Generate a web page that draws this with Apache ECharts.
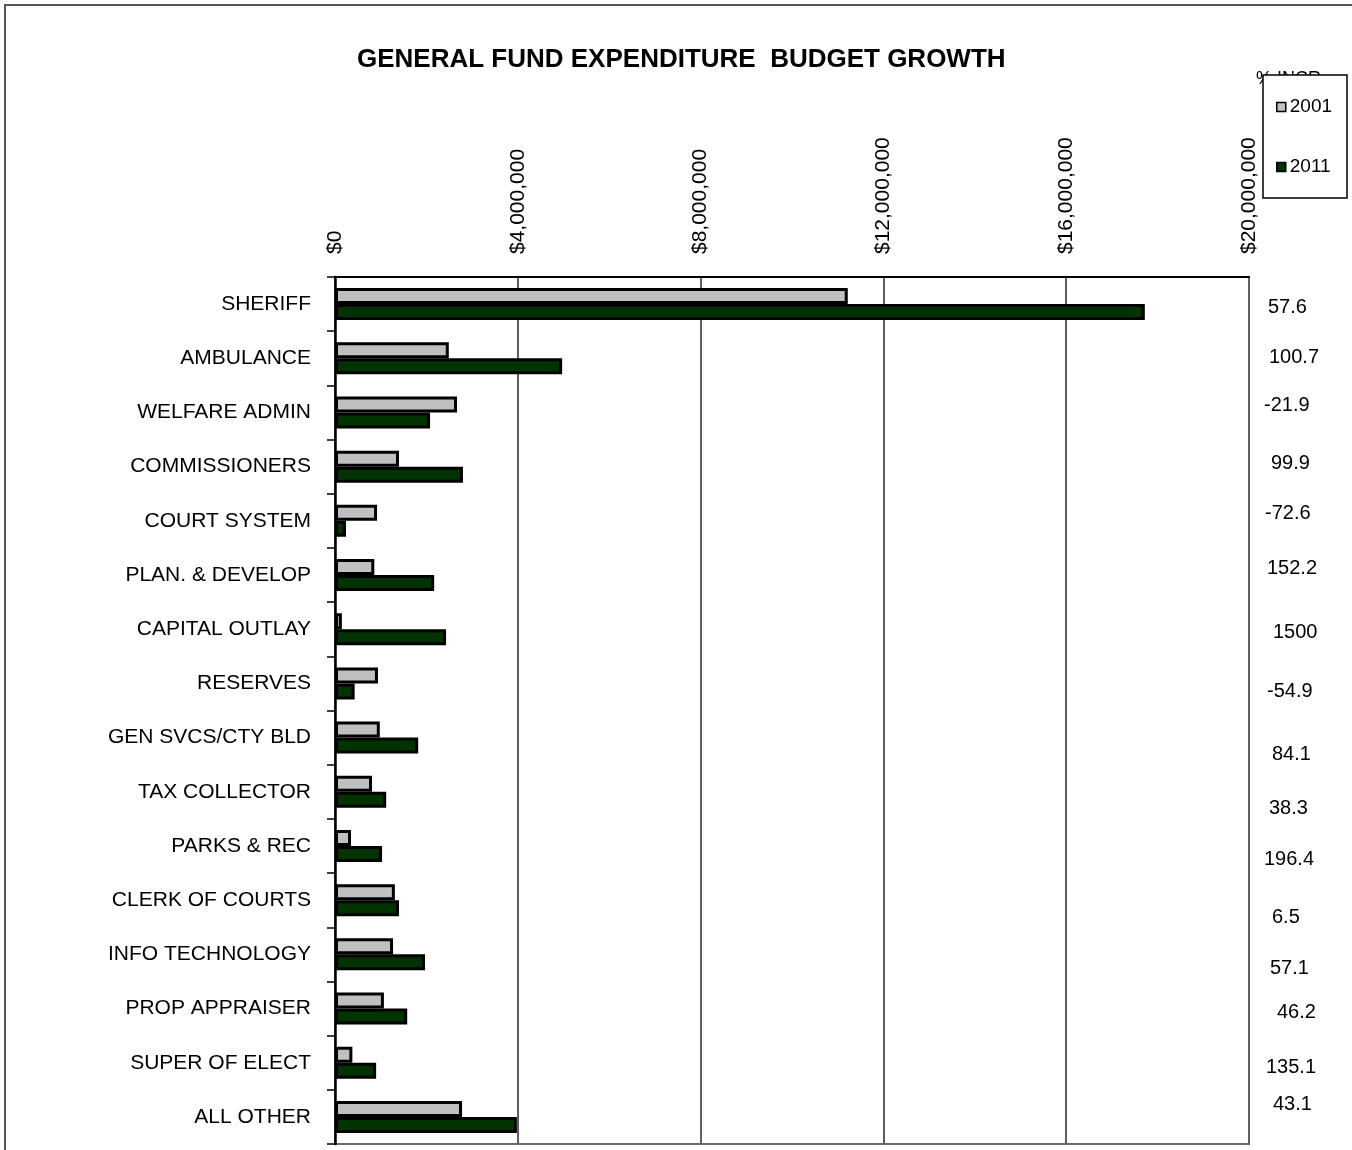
<!DOCTYPE html>
<html>
<head>
<meta charset="utf-8">
<title>General Fund Expenditure Budget Growth</title>
<script src="https://cdn.jsdelivr.net/npm/echarts@6/dist/echarts.min.js"></script>
<style>
  html, body { margin: 0; padding: 0; background: #fff; }
  #chart { width: 1352px; height: 1150px; }
</style>
</head>
<body>
<div id="chart"></div>
<script>
// Budget by department, dollars
const categories = [
  'SHERIFF', 'AMBULANCE', 'WELFARE ADMIN', 'COMMISSIONERS', 'COURT SYSTEM',
  'PLAN. & DEVELOP', 'CAPITAL OUTLAY', 'RESERVES', 'GEN SVCS/CTY BLD', 'TAX COLLECTOR',
  'PARKS & REC', 'CLERK OF COURTS', 'INFO TECHNOLOGY', 'PROP APPRAISER', 'SUPER OF ELECT', 'ALL OTHER'
];
const budget2001 = [
  11220000, 2490000, 2670000, 1400000, 920000,
  860000, 150000, 940000, 980000, 810000,
  350000, 1310000, 1270000, 1070000, 380000, 2780000
];
const budget2011 = [
  17720000, 4970000, 2080000, 2800000, 240000,
  2170000, 2430000, 430000, 1820000, 1120000,
  1030000, 1400000, 1970000, 1580000, 900000, 3980000
];
// Percent increase 2001 -> 2011, printed beside the plot
const growthPct = [
  '57.6', '100.7', '-21.9', '99.9', '-72.6',
  '152.2', '1500', '-54.9', '84.1', '38.3',
  '196.4', '6.5', '57.1', '46.2', '135.1', '43.1'
];
const valueMin = 0;
const valueMax = 20000000;
const valueStep = 4000000;

// Placement of the percent column (left edge x, middle y)
const pctLeft = [1268, 1269, 1264, 1271, 1265, 1267, 1273, 1267, 1272, 1269, 1264, 1272, 1270, 1277, 1266, 1273];
const pctMid  = [307, 357, 405, 463, 513, 568, 632, 691, 754, 808, 859, 917, 968, 1012, 1067, 1104];

const FONT = '"Liberation Sans", Arial, Helvetica, sans-serif';

function money(v) {
  return '$' + String(Math.round(v)).replace(/\B(?=(\d{3})+(?!\d))/g, ',');
}

const pctTexts = growthPct.map((t, i) => ({
  type: 'text',
  x: pctLeft[i],
  y: pctMid[i],
  z: 5,
  style: {
    text: t,
    fill: '#000',
    font: '20px ' + FONT,
    textAlign: 'left',
    textVerticalAlign: 'middle'
  }
}));

const chart = echarts.init(document.getElementById('chart'), null, { renderer: 'canvas' });

chart.setOption({
  backgroundColor: '#fff',
  animation: false,
  textStyle: { fontFamily: FONT },
  title: {
    text: 'GENERAL FUND EXPENDITURE  BUDGET GROWTH',
    left: 357,
    top: 47,
    padding: 0,
    textStyle: { fontFamily: FONT, fontSize: 26, fontWeight: 'bold', color: '#000' }
  },
  legend: {
    orient: 'vertical',
    left: 1263,
    top: 75,
    padding: [22, 15, 21, 13],
    itemGap: 40,
    itemWidth: 9,
    itemHeight: 9,
    backgroundColor: '#fff',
    borderColor: '#000',
    borderWidth: 1.5,
    borderRadius: 0,
    z: 10,
    icon: 'rect',
    itemStyle: { borderColor: '#000', borderWidth: 1.5 },
    textStyle: { fontFamily: FONT, fontSize: 19, color: '#000', lineHeight: 20, padding: [0, 0, 0, -1] },
    data: ['2001', '2011']
  },
  grid: {
    left: 335,
    right: 103,
    top: 277,
    bottom: 6,
    show: true,
    borderColor: '#6b6b6b',
    borderWidth: 2,
    backgroundColor: 'transparent'
  },
  xAxis: {
    type: 'value',
    position: 'top',
    min: valueMin,
    max: valueMax,
    interval: valueStep,
    axisLine: { show: true, lineStyle: { color: '#000', width: 2 } },
    axisTick: { show: false },
    splitLine: { show: true, lineStyle: { color: '#5f5f5f', width: 2 } },
    axisLabel: {
      rotate: -90,
      margin: 23,
      fontFamily: FONT,
      fontSize: 21,
      color: '#000',
      formatter: money
    }
  },
  yAxis: {
    type: 'category',
    inverse: true,
    data: categories,
    axisLine: { show: true, lineStyle: { color: '#000', width: 2.5 } },
    axisTick: { show: true, length: 8, lineStyle: { color: '#000', width: 1.5 } },
    axisLabel: {
      margin: 24,
      fontFamily: FONT,
      fontSize: 21,
      color: '#000'
    },
    splitLine: { show: false }
  },
  series: [
    {
      name: '2001',
      type: 'bar',
      data: budget2001,
      barWidth: 16,
      barGap: '0%',
      itemStyle: { color: '#c0c0c0', borderColor: '#000', borderWidth: 3 }
    },
    {
      name: '2011',
      type: 'bar',
      data: budget2011,
      barWidth: 16,
      barGap: '0%',
      itemStyle: { color: '#003300', borderColor: '#000', borderWidth: 3 }
    }
  ],
  graphic: [
    {
      type: 'rect',
      z: 0,
      silent: true,
      shape: { x: 5, y: 5, width: 1400, height: 1200 },
      style: { fill: 'none', stroke: '#555', lineWidth: 2 }
    },
    {
      type: 'text',
      x: 1256,
      y: 70,
      z: 1,
      style: { text: '% INCR', fill: '#000', font: '18px ' + FONT, textAlign: 'left', textVerticalAlign: 'top' }
    }
  ].concat(pctTexts)
});
</script>
</body>
</html>
